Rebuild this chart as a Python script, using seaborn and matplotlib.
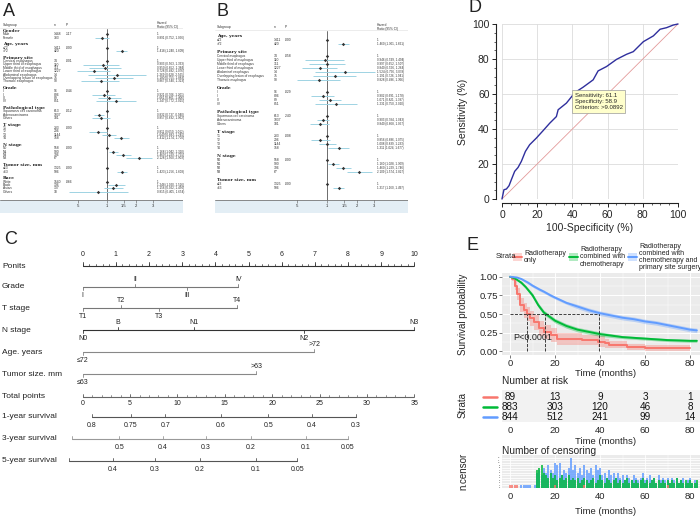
import numpy as np
import pandas as pd
import matplotlib
matplotlib.use("Agg")
import matplotlib.pyplot as plt
import matplotlib.transforms as mtransforms
from matplotlib.patches import Rectangle
from matplotlib.lines import Line2D
from matplotlib.ticker import MultipleLocator, AutoMinorLocator, NullLocator
import seaborn as sns

sns.set_style("white")
plt.rcParams['font.family'] = ['Liberation Sans', 'DejaVu Sans']

W, H = 700, 517

# ---------------- panel A: forest plot ----------------
a_groups = ["Gender", "Age, years", "Primary site", "Grade", "Pathological type",
            "T stage", "N stage", "Tumor size, mm", "Race"]
site_levels = ["Cervical esophagus", "Upper third of esophagus", "Middle third of esophagus",
               "Lower third of esophagus", "Abdominal esophagus",
               "Overlapping lesion of esophagus", "Thoracic esophagus"]
a_levels = [["Male", "Female"], ["≤72", ">72"], site_levels, ["I", "II", "III", "IV"],
            ["Squamous cell carcinoma", "Adenocarcinoma", "Others"],
            ["T1", "T2", "T3", "T4"], ["N0", "N1", "N2", "N3"], ["≤63", ">63"],
            ["White", "Black", "Asian", "Others"]]
a_n = [[1448, 383], [1411, 420], [34, 110, 311, 1227, 14, 75, 90], [96, 806, 89, 851],
       [613, 1037, 181], [233, 296, 1144, 158], [558, 900, 306, 67], [1325, 506],
       [1540, 136, 137, 18]]
a_p = [".117", ".000", ".001", ".044", ".012", ".000", ".000", ".000", ".066"]
a_hr = [[1, 0.891], [1, 1.418], [1, 0.903, 0.950, 0.728, 1.269, 1.180, 0.867],
        [1, 0.921, 1.061, 1.247], [1, 0.832, 0.857], [1, 0.811, 1.049, 1.412],
        [1, 1.168, 1.469, 2.128], [1, 1.423], [1, 1.248, 1.156, 0.815]]
a_lo = [[1, 0.752], [1, 1.240], [1, 0.563, 0.652, 0.492, 0.628, 0.755, 0.540],
        [1, 0.706, 0.801, 0.772], [1, 0.737, 0.692], [1, 0.650, 0.883, 1.174],
        [1, 1.042, 1.229, 1.560], [1, 1.256], [1, 1.020, 0.922, 0.405]]
a_hi = [[1, 1.056], [1, 1.609], [1, 1.333, 1.384, 1.076, 2.565, 1.883, 1.323],
        [1, 1.201, 1.406, 2.015], [1, 0.940, 1.062], [1, 1.012, 1.245, 1.700],
        [1, 1.310, 1.755, 2.903], [1, 1.608], [1, 1.526, 1.450, 1.654]]

# ---------------- panel B: forest plot ----------------
b_groups = ["Age, years", "Primary site", "Grade", "Pathological type",
            "T stage", "N stage", "Tumor size, mm"]
b_levels = [["≤72", ">72"], site_levels, ["I", "II", "III", "IV"],
            ["Squamous cell carcinoma", "Adenocarcinoma", "Others"],
            ["T1", "T2", "T3", "T4"], ["N0", "N1", "N2", "N3"], ["≤63", ">63"]]
b_n = [[1411, 420], [34, 110, 311, 1227, 14, 75, 90], [96, 806, 89, 851],
       [613, 1037, 181], [233, 296, 1144, 158], [558, 900, 306, 67], [1325, 506]]
b_p = [".000", ".058", ".029", ".240", ".008", ".000", ".000"]
b_hr = [[1, 1.460], [1, 0.946, 0.997, 0.840, 1.524, 1.191, 0.828], [1, 0.902, 1.071, 1.231],
        [1, 0.903, 0.840], [1, 0.856, 1.008, 1.311], [1, 1.160, 1.460, 2.109], [1, 1.317]]
b_lo = [[1, 1.301], [1, 0.599, 0.652, 0.556, 0.756, 0.726, 0.496], [1, 0.691, 0.821, 0.750],
        [1, 0.784, 0.668], [1, 0.686, 0.839, 1.024], [1, 1.028, 1.229, 1.574], [1, 1.160]]
b_hi = [[1, 1.661], [1, 1.494, 1.507, 1.264, 3.078, 1.941, 1.366], [1, 1.178, 1.397, 2.020],
        [1, 1.043, 1.057], [1, 1.075, 1.233, 1.677], [1, 1.309, 1.746, 2.827], [1, 1.497]]
hr_ticks = [0.5, 1, 1.5, 2, 3]
hr_ticklabels = [".5", "1", "1.5", "2", "3"]

# ---------------- panel C: nomogram ----------------
points_ticks = list(range(0, 11))
grade_lab = ["I", "II", "III", "IV"]
grade_pts = [0, 1.58, 3.15, 4.69]
grade_up = [False, True, False, True]
t_lab = ["T1", "T2", "T3", "T4"]
t_pts = [0, 1.155, 2.31, 4.64]
t_up = [False, True, False, True]
n_lab = ["N0", "B", "N1", "N2", "N3"]
n_pts = [0, 1.07, 3.35, 6.68, 10.0]
n_up = [False, True, True, False, True]
age_lab = ["≤72", ">72"]
age_pts = [0, 6.98]
size_lab = ["≤63", ">63"]
size_pts = [0, 5.23]
total_ticks = [0, 5, 10, 15, 20, 25, 30, 35]
surv1_lab = ["0.8", "0.75", "0.7", "0.6", "0.5", "0.4", "0.3"]
surv1_pts = [0.95, 5.1, 8.7, 14.6, 19.6, 24.2, 28.8]
surv3_lab = ["0.6", "0.5", "0.4", "0.3", "0.2", "0.1", "0.05"]
surv3_pts = [-1.16, 3.87, 8.44, 12.98, 17.73, 23.57, 27.97]
surv5_lab = ["0.5", "0.4", "0.3", "0.2", "0.1", "0.05"]
surv5_pts = [-1.45, 3.17, 7.63, 12.38, 18.29, 22.65]

# ---------------- panel D: ROC ----------------
roc_fpr = [0, 1.1, 2.5, 4, 5.3, 7.2, 9.1, 11, 13.3, 15.7, 19.5, 23.3, 27.1, 30.9, 31.9,
           36.6, 41.4, 46.1, 51.8, 54.6, 59.4, 65.1, 70.8, 74.6, 80.3, 86, 89.8, 93.5, 97.3, 100]
roc_tpr = [0, 5.3, 5.7, 7.6, 11, 15.8, 18, 21.5, 27.2, 31, 34.8, 39, 43.3, 47.1, 51,
           54.8, 60.8, 63.9, 68.1, 73.2, 75.7, 79.8, 82.7, 84.2, 89.9, 93.2, 97, 97.9, 99.4, 100]

# ---------------- panel E: survival ----------------
strata_names = ["Radiotherapy\nonly", "Radiotherapy\ncombined with\nchemotherapy",
                "Radiotherapy\ncombined with\nchemotherapy and\nprimary site surgery"]
strata_colors = ["#F8766D", "#00BA38", "#619CFF"]
red_t = [0, 1, 2, 3, 4.5, 6, 7.3, 9, 10.5, 13, 15, 18, 21, 25, 32, 39, 42, 44, 52, 60, 80]
red_s = [1, 0.97, 0.88, 0.77, 0.62, 0.55, 0.50, 0.44, 0.39, 0.31, 0.26, 0.22, 0.17, 0.16,
         0.15, 0.13, 0.11, 0.09, 0.06, 0.05, 0.04]
red_ci = [0, 0.03, 0.06, 0.08, 0.09, 0.10, 0.10, 0.10, 0.10, 0.10, 0.09, 0.09, 0.08, 0.08,
          0.07, 0.07, 0.06, 0.05, 0.04, 0.04, 0.03]
green_t = [0, 2, 5, 7, 10, 12.5, 15, 20, 25, 30, 35, 40, 50, 60, 70, 80, 83]
green_s = [1, 0.98, 0.92, 0.86, 0.75, 0.62, 0.52, 0.41, 0.34, 0.29, 0.26, 0.23, 0.19,
           0.17, 0.15, 0.14, 0.14]
green_ci = [0, 0.01, 0.02, 0.02, 0.03, 0.03, 0.03, 0.03, 0.03, 0.03, 0.03, 0.03, 0.02,
            0.02, 0.02, 0.02, 0.02]
blue_t = [0, 3, 5, 8, 10, 13, 15, 18, 20, 25, 30, 35, 40, 45, 50, 55, 60, 65, 70, 75, 80, 83]
blue_s = [1, 0.99, 0.97, 0.92, 0.88, 0.83, 0.80, 0.75, 0.72, 0.65, 0.60, 0.55, 0.51, 0.48,
          0.45, 0.43, 0.40, 0.38, 0.35, 0.32, 0.29, 0.28]
blue_ci = [0, 0.01, 0.01, 0.02, 0.02, 0.02, 0.02, 0.02, 0.02, 0.02, 0.03, 0.03, 0.03, 0.03,
           0.03, 0.03, 0.03, 0.03, 0.03, 0.03, 0.03, 0.03]
median_t = [7.3, 15.3, 39.5]
risk_times = [0, 20, 40, 60, 80]
risk_red = [89, 13, 9, 3, 1]
risk_green = [883, 303, 120, 46, 8]
risk_blue = [844, 512, 241, 99, 14]
cens_months = list(range(84))
cens_blue = [0, 0, 0, 0, 0, 1, 1, 1, 1, 1, 0, 1,
             6, 7, 5, 8, 6, 9, 7, 6,
             10, 9, 10, 5, 7, 6, 8, 12, 7, 9,
             6, 8, 5, 9, 7, 6, 8, 5, 9, 7,
             8, 5, 6, 4, 7, 5, 6, 4, 6, 4,
             5, 3, 5, 4, 3, 5, 4, 3, 4, 6,
             3, 4, 5, 3, 4, 2, 5, 3, 4, 3,
             4, 2, 4, 3, 4, 2, 3, 4, 2, 3,
             4, 2, 3, 2]
cens_green = [0] * 12 + [7, 8, 9, 6, 5, 4, 6, 4,
              5, 3, 4, 5, 3, 4, 5, 3, 4, 3,
              4, 2, 3, 4, 3, 2, 3, 4, 2, 3,
              5, 3, 2, 4, 3, 2, 3, 4, 2, 3,
              2, 3, 4, 2, 3, 2, 3, 2, 3, 4,
              2, 3, 2, 3, 4, 2, 3, 2, 3, 2,
              3, 2, 3, 2, 4, 2, 3, 2, 3, 2,
              3, 2, 2, 3]
cens_red_t = [0, 1, 2, 3, 20, 33, 70]
cens_red = [1, 1, 1, 1, 1, 1, 1]


def box(x0, y0, x1, y1):
    return [x0 / W, 1 - y1 / H, (x1 - x0) / W, (y1 - y0) / H]


fig = plt.figure(figsize=(7, 5.17), dpi=100)

for lab, x, y in [("A", 3, 12), ("B", 216, 12), ("C", 4, 240), ("D", 468, 8), ("E", 466, 245)]:
    fig.text(x / W, 1 - y / H, lab, fontsize=13, va="center", ha="left", color="#222")


def forest(left, right, one_px, px_ln, head_y, row0, step, cols,
           groups, levels, ns, ps, hrs, los, his, lab_font):
    base = 200
    tb = fig.add_axes(box(left, head_y - 8, right, base + 13))
    tb.set_xlim(left, right)
    tb.set_ylim(base + 13, head_y - 8)
    tb.axis("off")
    tb.add_patch(Rectangle((left, base), right - left, 13, color="#e3eef5", lw=0))
    tb.plot([left, right], [base, base], color="#777777", lw=0.6)
    tb.plot([left, right], [head_y + 3, head_y + 3], color="#dddddd", lw=0.4)
    small = dict(fontsize=2.4, va="center", color="#333")
    tb.text(cols[0], head_y, "Subgroup", **small)
    tb.text(cols[1], head_y, "n", **small)
    tb.text(cols[2], head_y, "P", **small)
    tb.text(cols[3], head_y, "Hazard\nRatio (95% CI)", fontsize=2.3, va="center",
            color="#333", linespacing=1.1)
    rows = []
    r = 0
    for g, levs, nn, p, hh, ll, uu in zip(groups, levels, ns, ps, hrs, los, his):
        tb.text(cols[0], row0 + step * r, g, fontsize=3.2, fontweight="bold",
                family="DejaVu Serif", va="center", color="#222")
        for i, lev in enumerate(levs):
            y = row0 + step * (r + 1 + i)
            tb.text(cols[0], y, lev, fontsize=lab_font, va="center", color="#333")
            tb.text(cols[1], y, str(nn[i]), **small)
            if i == 0:
                tb.text(cols[2], y, p, **small)
                tb.text(cols[3], y, "1", fontsize=2.2, va="center", color="#333")
            else:
                tb.text(cols[3], y, f"{hh[i]:.3f} ({ll[i]:.3f}, {uu[i]:.3f})",
                        fontsize=2.2, va="center", color="#333")
            rows.append(dict(row=r + 1 + i, hr=hh[i], lo=ll[i], hi=uu[i]))
        r += len(levs) + 2
    df = pd.DataFrame(rows)

    lo_x, hi_x = 0.3, 3.4
    L = one_px + px_ln * np.log(lo_x)
    R = one_px + px_ln * np.log(hi_x)
    fa = fig.add_axes(box(L, head_y + 4, R, base))
    fa.patch.set_alpha(0)
    fa.hlines(df["row"], df["lo"], df["hi"], color="#9fd3e3", lw=0.7)
    sns.scatterplot(data=df, x="hr", y="row", ax=fa, marker="D", s=3, color="#333",
                    linewidth=0, zorder=3)
    fa.axvline(1, color="#555555", lw=0.6, zorder=1)
    fa.set_xscale("log")
    fa.set_xlim(lo_x, hi_x)
    fa.set_ylim((base - row0) / step, (head_y + 4 - row0) / step)
    fa.set_xticks(hr_ticks)
    fa.set_xticklabels(hr_ticklabels)
    fa.xaxis.set_minor_locator(NullLocator())
    fa.set_yticks([])
    fa.set_xlabel("")
    fa.set_ylabel("")
    for s in fa.spines.values():
        s.set_visible(False)
    fa.tick_params(axis="x", direction="out", length=2, width=0.4, labelsize=3,
                   pad=1, color="#555", bottom=True)


forest(0, 183, 107, 41.8, 25, 31, 3.35, [3, 54, 66, 157],
       a_groups, a_levels, a_n, a_p, a_hr, a_lo, a_hi, 2.4)
forest(215, 408, 327, 43.0, 27, 36, 4.0, [217, 274, 285, 377],
       b_groups, b_levels, b_n, b_p, b_hr, b_lo, b_hi, 2.3)

# ---------------- panel D ----------------
ax_d = fig.add_axes(box(502, 24, 678, 199))
ax_d.plot([0, 100], [0, 100], color="#e39a9a", lw=0.6, zorder=2)
sns.lineplot(x=roc_fpr, y=roc_tpr, ax=ax_d, color="#2f2f9d", lw=1.0, sort=False,
             estimator=None, zorder=3)
ax_d.set_xlim(0, 100)
ax_d.set_ylim(0, 100)
for ln in ax_d.lines:
    ln.set_clip_on(False)
ax_d.xaxis.set_major_locator(MultipleLocator(20))
ax_d.yaxis.set_major_locator(MultipleLocator(20))
ax_d.xaxis.set_minor_locator(AutoMinorLocator(4))
ax_d.yaxis.set_minor_locator(AutoMinorLocator(4))
ax_d.grid(True, which="major", color="#dcdcdc", lw=0.6)
ax_d.set_axisbelow(True)
ax_d.spines["top"].set_visible(False)
ax_d.spines["right"].set_visible(False)
ax_d.spines["left"].set_position(("outward", 4))
ax_d.spines["bottom"].set_position(("outward", 3))
for s in ["left", "bottom"]:
    ax_d.spines[s].set_color("#222")
    ax_d.spines[s].set_linewidth(0.8)
ax_d.tick_params(which="major", length=3, width=0.7, labelsize=7.5, color="#222",
                 left=True, bottom=True, pad=2)
ax_d.tick_params(which="minor", length=1.6, width=0.5, color="#222", left=True, bottom=True)
ax_d.set_xlabel("100-Specificity (%)", fontsize=7.5, labelpad=2)
ax_d.set_ylabel("Sensitivity (%)", fontsize=7.5, labelpad=3)
ax_d.text(41.3, 60.8, "Sensitivity: 61.1\nSpecificity: 58.9\nCriterion: >9.0892",
          fontsize=4.3, va="top", ha="left", linespacing=1.35, zorder=5,
          bbox=dict(boxstyle="square,pad=0.45", fc="#ffffcc", ec="#9a9a9a", lw=0.5))

# ---------------- panel C ----------------
NL, NR = 82.7, 414.3
row_font = 6
val_font = 5


def nomo_row(y, xmax, name):
    ax = fig.add_axes(box(NL, y - 6, NR, y + 6))
    ax.set_xlim(0, xmax)
    ax.set_ylim(-1, 1)
    ax.axis("off")
    fig.text(2 / W, 1 - y / H, name, fontsize=row_font, va="center", ha="left", color="#222")
    return ax


def cat_row(y, name, labels, pts, ups, color):
    ax = nomo_row(y, 10, name)
    ax.plot([0, max(pts)], [0, 0], color=color, lw=0.8, clip_on=False)
    for lab, p, up in zip(labels, pts, ups):
        ax.plot([p, p], [0, 0.5 if up else -0.5], color=color, lw=0.6, clip_on=False)
        ax.annotate(lab, xy=(p, 0), xytext=(0, 5.2 if up else -5.8),
                    textcoords="offset points", ha="center", va="center",
                    fontsize=val_font, color="#222")


ax_pts = nomo_row(266, 10, "Ponits")
ax_pts.plot([0, 10], [0, 0], color="#333", lw=0.8)
for v in np.arange(0, 10.01, 0.2):
    ax_pts.plot([v, v], [0, 0.3], color="#333", lw=0.5, clip_on=False)
for v in points_ticks:
    ax_pts.plot([v, v], [0, 0.6], color="#333", lw=0.6, clip_on=False)
    ax_pts.annotate(str(v), xy=(v, 0), xytext=(0, 8), textcoords="offset points",
                    ha="center", va="center", fontsize=val_font, color="#222")

cat_row(287, "Grade", grade_lab, grade_pts, grade_up, "#777")
cat_row(308, "T stage", t_lab, t_pts, t_up, "#777")
cat_row(330, "N stage", n_lab, n_pts, n_up, "#333")
cat_row(352, "Age. years", age_lab, age_pts, [False, True], "#888")
cat_row(374, "Tumor size. mm", size_lab, size_pts, [False, True], "#888")

ax_tot = nomo_row(397, 35, "Total points")
ax_tot.plot([0, 35], [0, 0], color="#666", lw=0.8)
for v in range(0, 36):
    ax_tot.plot([v, v], [0, 0.3], color="#666", lw=0.5, clip_on=False)
for v in total_ticks:
    ax_tot.plot([v, v], [0, 0.55], color="#666", lw=0.6, clip_on=False)
    ax_tot.annotate(str(v), xy=(v, 0), xytext=(0, -4.8), textcoords="offset points",
                    ha="center", va="center", fontsize=val_font, color="#222")


def surv_row(y, name, labels, pts, color):
    ax = nomo_row(y, 35, name)
    ax.plot([min(pts), max(pts)], [0, 0], color=color, lw=0.8, clip_on=False)
    for lab, p in zip(labels, pts):
        ax.plot([p, p], [0, 0.45], color=color, lw=0.6, clip_on=False)
        ax.annotate(lab, xy=(p, 0), xytext=(0, -6.2), textcoords="offset points",
                    ha="center", va="center", fontsize=val_font, color="#222")


surv_row(417, "1-year survival", surv1_lab, surv1_pts, "#555")
surv_row(439, "3-year survival", surv3_lab, surv3_pts, "#999")
surv_row(461, "5-year survival", surv5_lab, surv5_pts, "#555")

# ---------------- panel E ----------------
XL, XR = 502, 700
t_lim = (-3.6, 84.4)
tick_font = 6.8

# legend
fig.text(496 / W, 1 - 257 / H, "Strata", fontsize=5.5, va="center", ha="left")
for x0, name, col in zip([513, 569, 628], strata_names, strata_colors):
    fig.add_artist(Rectangle((x0 / W, 1 - 261 / H), 9 / W, 8 / H, transform=fig.transFigure,
                             facecolor=col, alpha=0.3, lw=0))
    fig.add_artist(Line2D([x0 / W, (x0 + 9) / W], [1 - 257 / H, 1 - 257 / H],
                          transform=fig.transFigure, color=col, lw=1.4))
    fig.text((x0 + 11) / W, 1 - 257 / H, name, fontsize=5, va="center", ha="left",
             linespacing=1.05, color="#222")

ax_e = fig.add_axes(box(XL, 273, XR, 355))
ax_e.set_facecolor("#ebebeb")
curves = [(red_t, red_s, red_ci, strata_colors[0], "steps-post"),
          (green_t, green_s, green_ci, strata_colors[1], "default"),
          (blue_t, blue_s, blue_ci, strata_colors[2], "default")]
for tt, ss, cc, col, dstyle in curves:
    lo = np.clip(np.array(ss) - np.array(cc), 0, 1)
    hi = np.clip(np.array(ss) + np.array(cc), 0, 1)
    ax_e.fill_between(tt, lo, hi, color=col, alpha=0.35, lw=0,
                      step="post" if dstyle == "steps-post" else None)
for tt, ss, cc, col, dstyle in curves:
    sns.lineplot(x=tt, y=ss, ax=ax_e, color=col, lw=1.4, drawstyle=dstyle,
                 estimator=None, sort=False)
ax_e.hlines(0.5, 0, max(median_t), colors="#222", linestyles="--", lw=0.6)
ax_e.vlines(median_t, 0, 0.5, colors="#222", linestyles="--", lw=0.6)
ax_e.text(1.3, 0.18, "P<0.0001", fontsize=6.5, va="center", ha="left", color="#222")
ax_e.set_xlim(*t_lim)
ax_e.set_ylim(-0.05, 1.05)
ax_e.set_xticks(risk_times)
ax_e.set_yticks([0, 0.25, 0.5, 0.75, 1.0])
ax_e.set_yticklabels(["0.00", "0.25", "0.50", "0.75", "1.00"])
ax_e.xaxis.set_minor_locator(MultipleLocator(10))
ax_e.yaxis.set_minor_locator(MultipleLocator(0.125))
ax_e.grid(True, which="major", color="white", lw=0.7)
ax_e.grid(True, which="minor", color="white", lw=0.35)
ax_e.set_axisbelow(True)
for s in ax_e.spines.values():
    s.set_visible(False)
ax_e.tick_params(which="major", length=2, width=0.5, color="#444", labelsize=tick_font,
                 pad=0.8, left=True, bottom=True)
ax_e.tick_params(which="minor", length=0)
ax_e.set_xlabel("")
ax_e.set_ylabel("")
fig.text(606 / W, 1 - 373 / H, "Time (months)", fontsize=6.8, ha="center", va="center")
fig.text(463 / W, 1 - 314 / H, "Survival probability", fontsize=7, rotation=90,
         ha="center", va="center")

# risk table
fig.text(XL / W, 1 - 381.5 / H, "Number at risk", fontsize=7.3, va="center", ha="left")
ax_r = fig.add_axes(box(XL, 390, XR, 422))
ax_r.set_facecolor("#f2f2f2")
ax_r.set_xlim(*t_lim)
ax_r.set_ylim(2.5, -0.7)
for i, (counts, col) in enumerate(zip([risk_red, risk_green, risk_blue], strata_colors)):
    for t, c in zip(risk_times, counts):
        ax_r.text(t, i, str(c), ha="center", va="center", fontsize=7.2, color="#111")
    key_tr = mtransforms.blended_transform_factory(ax_r.transAxes, ax_r.transData)
    ax_r.plot([-0.096, -0.025], [i, i], color=col, lw=1.8, transform=key_tr, clip_on=False)
ax_r.set_xticks(risk_times)
ax_r.set_yticks([])
for s in ax_r.spines.values():
    s.set_visible(False)
ax_r.tick_params(axis="x", length=2, width=0.5, color="#444", labelsize=tick_font, pad=0.8)
fig.text(606 / W, 1 - 441 / H, "Time (months)", fontsize=6.8, ha="center", va="center")
fig.text(463 / W, 1 - 405 / H, "Strata", fontsize=7, rotation=90, ha="center", va="center")

# censoring plot
fig.text(XL / W, 1 - 451 / H, "Number of censoring", fontsize=7.3, va="center", ha="left")
ax_c = fig.add_axes(box(XL, 455, XR, 488))
ax_c.set_facecolor("#ebebeb")
ax_c.bar(cens_months, cens_blue, width=0.8, color=strata_colors[2], alpha=0.8, lw=0)
ax_c.bar(cens_months, cens_green, width=0.8, color=strata_colors[1], alpha=0.8, lw=0)
ax_c.bar(cens_red_t, cens_red, width=0.8, color=strata_colors[0], alpha=0.8, lw=0)
ax_c.set_xlim(*t_lim)
ax_c.set_ylim(0, 13)
ax_c.set_xticks(risk_times)
ax_c.set_yticks(range(0, 13))
ax_c.set_yticklabels([str(v) for v in range(0, 13)])
ax_c.xaxis.set_minor_locator(MultipleLocator(10))
ax_c.grid(True, which="major", color="white", lw=0.6)
ax_c.grid(True, which="minor", axis="x", color="white", lw=0.3)
ax_c.set_axisbelow(True)
for s in ax_c.spines.values():
    s.set_visible(False)
ax_c.tick_params(axis="x", length=2, width=0.5, color="#444", labelsize=tick_font, pad=0.8)
ax_c.tick_params(axis="y", length=1, width=0.3, color="#444", labelsize=1.5, pad=0.5)
fig.text(606 / W, 1 - 511 / H, "Time (months)", fontsize=6.8, ha="center", va="center")
fig.text(463 / W, 1 - 471 / H, "n.censor", fontsize=7, rotation=90, ha="center", va="center")

fig.savefig("out.png", dpi=100)
